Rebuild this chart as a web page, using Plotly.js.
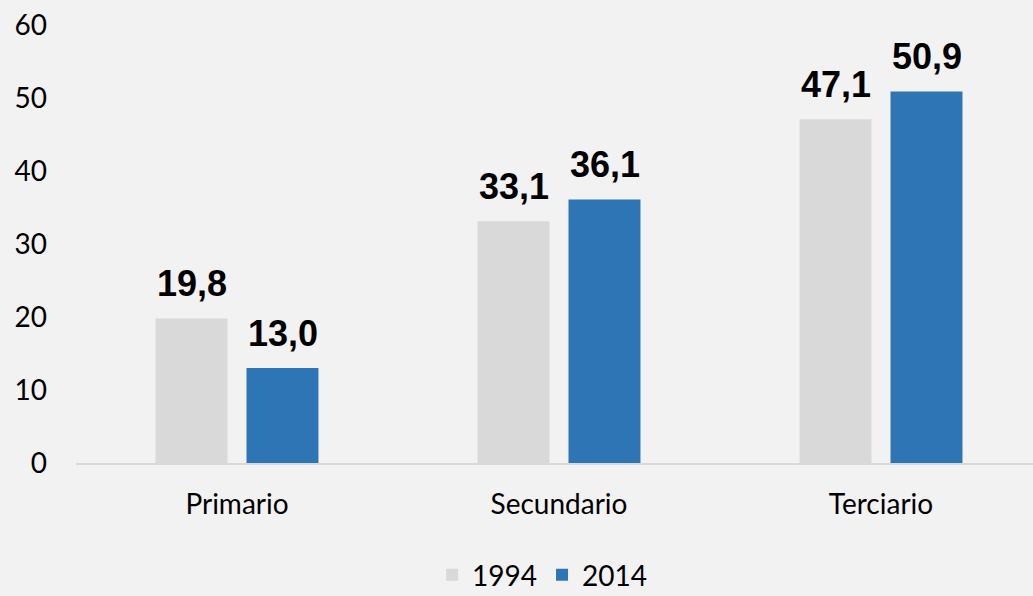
<!DOCTYPE html>
<html>
<head>
<meta charset="utf-8">
<script src="https://cdn.plot.ly/plotly-3.0.1.min.js"></script>
<style>
  body { margin: 0; background: #f2f2f2; }
  #chart { width: 1033px; height: 596px; }
</style>
</head>
<body>
<div id="chart"></div>
<script>
// sectors and shares
var sectors = ["Primario", "Secundario", "Terciario"];
var years = ["1994", "2014"];
var values1994 = [19.8, 33.1, 47.1];
var values2014 = [13.0, 36.1, 50.9];
var yTicks = [0, 10, 20, 30, 40, 50, 60];

var colors = ["#d9d9d9", "#2e75b6"];
var labelFont = {family: "Liberation Sans, Arial, sans-serif", size: 36, color: "#000"};
var tickFont = {family: "Lato, sans-serif", size: 28, color: "#000"};

function fmt(v){ return v.toFixed(1).replace(".", ","); }

var series = [values1994, values2014];
var traces = series.map(function(vals, i){
	return {
		type: "bar",
		name: years[i],
		x: sectors,
		y: vals,
		marker: {color: colors[i]},
		hoverinfo: "skip"
	};
});

// value labels above each bar
var annotations = [];
series.forEach(function(vals, i){
	vals.forEach(function(v, j){
		annotations.push({
			x: sectors[j], y: v, xref: "x", yref: "y",
			text: "<b>" + fmt(v) + "</b>",
			showarrow: false,
			yanchor: "bottom",
			xshift: i == 0 ? -45.5 : 45.5,
			yshift: 12,
			font: labelFont
		});
	});
});

var layout = {
	width: 1033, height: 596,
	paper_bgcolor: "#f2f2f2", plot_bgcolor: "#f2f2f2",
	margin: {l: 76, r: 0, t: 25, b: 133, autoexpand: false},
	barmode: "group",
	bargap: 0.435,
	bargroupgap: 0.209,
	showlegend: true,
	legend: {
		orientation: "h", x: 0.487, xanchor: "center", y: -0.256, yanchor: "middle",
		font: tickFont, bgcolor: "rgba(0,0,0,0)"
	},
	xaxis: {
		range: [-0.5, 2.472],
		showgrid: false, showline: true, linecolor: "#d9d9d9", linewidth: 1.5,
		tickfont: tickFont, ticks: "", ticklabelstandoff: 16
	},
	yaxis: {
		range: [0, 60], tickvals: yTicks, showgrid: false, zeroline: false,
		showline: false, tickfont: tickFont, ticks: "", ticklabelstandoff: 28
	},
	annotations: annotations,
	font: tickFont
};

Plotly.newPlot("chart", traces, layout, {displayModeBar: false, staticPlot: true});
</script>
</body>
</html>
